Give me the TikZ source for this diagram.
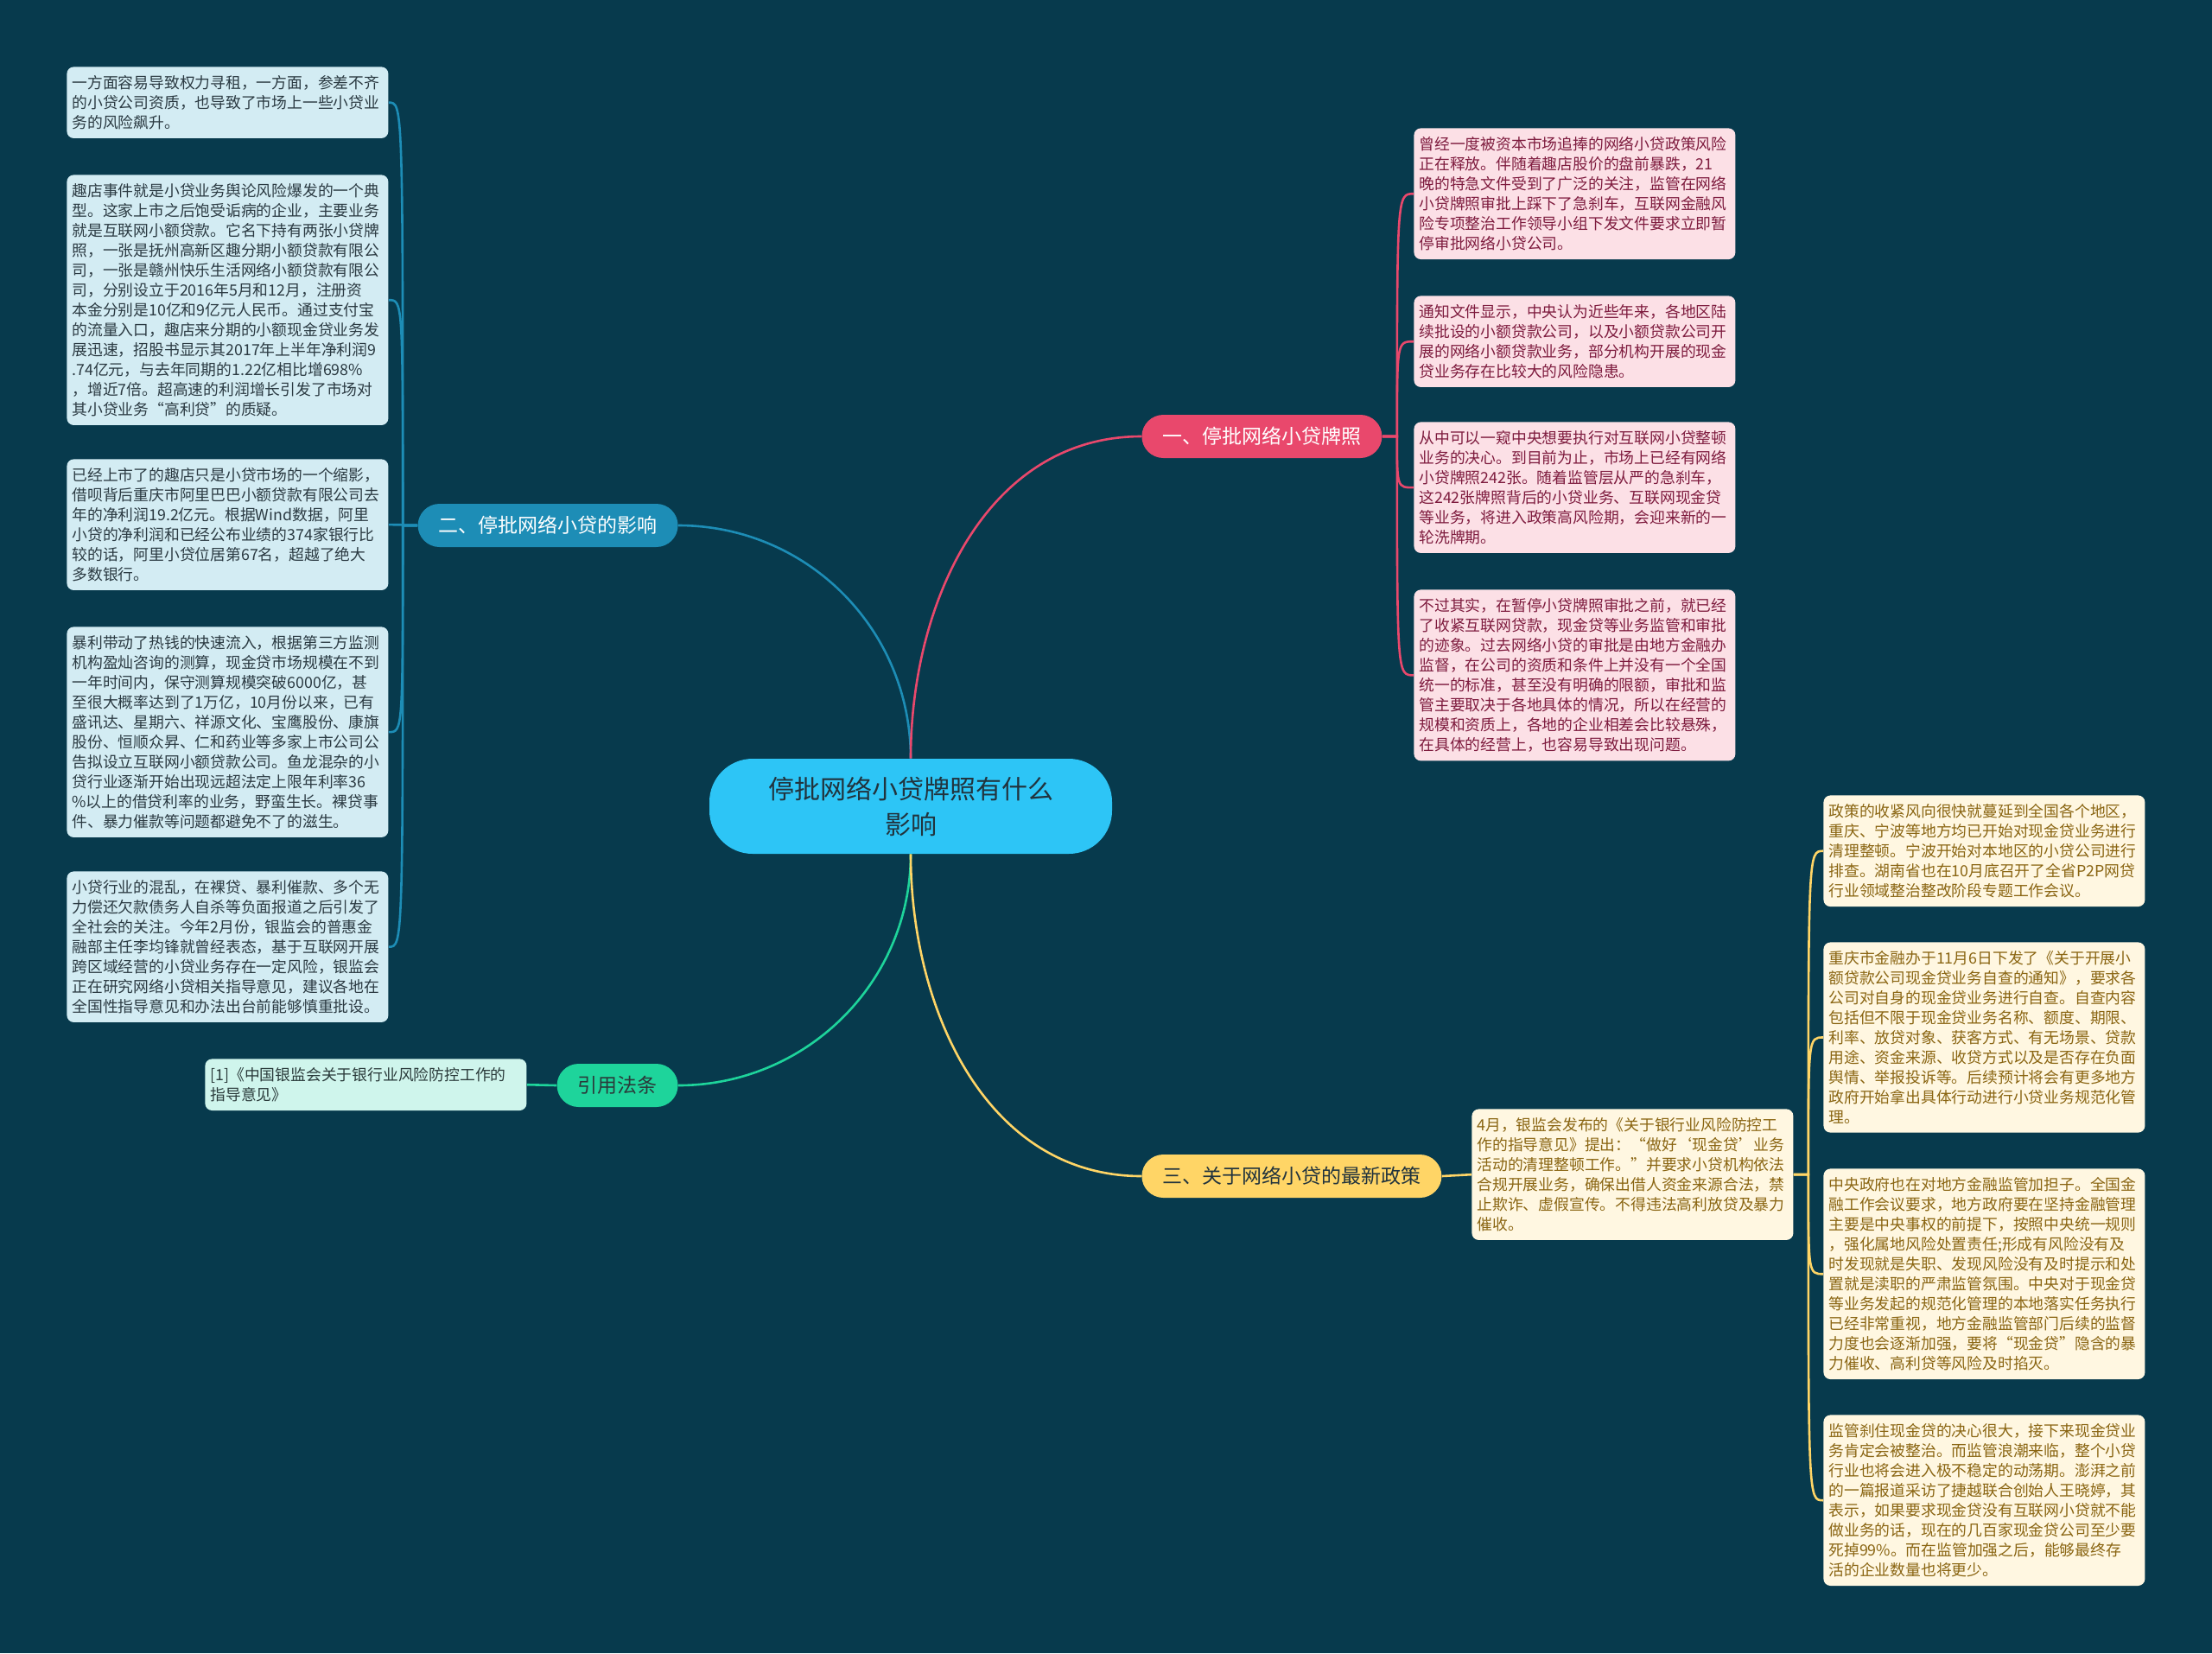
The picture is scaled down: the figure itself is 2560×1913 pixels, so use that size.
\documentclass[tikz,border=0pt]{standalone}
\usepackage{fontspec}
\newfontfamily\cjk{Noto Sans CJK SC}
\usetikzlibrary{positioning}

\definecolor{bgcol}{RGB}{7,58,77}
\definecolor{rootcol}{HTML}{2DC5F6}
\definecolor{roottext}{HTML}{21333D}
\definecolor{pinkcol}{HTML}{E9486C}
\definecolor{bluecol}{HTML}{1D8DB6}
\definecolor{greencol}{HTML}{1ED49B}
\definecolor{yellowcol}{HTML}{FFD566}
\definecolor{blueleaf}{HTML}{D3ECF3}
\definecolor{bluetext}{HTML}{2B3A42}
\definecolor{pinkleaf}{HTML}{FCE0E6}
\definecolor{pinktext}{HTML}{7E1B3E}
\definecolor{yellowleaf}{HTML}{FFF7E1}
\definecolor{yellowtext}{HTML}{8A6512}
\definecolor{greenleaf}{HTML}{CFF5EC}
\definecolor{greentext}{HTML}{2A3A3A}

\begin{document}
\begin{tikzpicture}[
    x=0.5pt, y=-0.5pt,
    root/.style={rectangle, fill=rootcol, text=roottext, rounded corners=25pt, minimum width=233pt, minimum height=55pt, align=center, font=\cjk\fontsize{15pt}{20.5pt}\selectfont},
    branch/.style={rectangle, rounded corners=12.5pt, minimum height=25pt, inner xsep=12pt, font=\cjk\fontsize{11.5pt}{14pt}\selectfont},
    leaf/.style={rectangle, rounded corners=4pt, anchor=north west, text width=180pt, inner xsep=3pt, inner ysep=5pt, align=left, font=\cjk\fontsize{8.9pt}{11.5pt}\selectfont},
    link/.style={line width=1.3pt}
]

% Background
\fill[bgcol] (0,0) rectangle (2560,1913);

% Central topic
\node[root] at (1054,933) (root) {停批网络小贷牌照有什么\\影响};

% Main branches
\node[branch, fill=pinkcol, text=white, anchor=west] at (1321,505) (b1) {一、停批网络小贷牌照};
\node[branch, fill=bluecol, text=white, anchor=east] at (785,608) (b2) {二、停批网络小贷的影响};
\node[branch, fill=yellowcol, text=roottext, anchor=west] at (1321,1361) (b3) {三、关于网络小贷的最新政策};
\node[branch, fill=greencol, text=greentext, anchor=east] at (785,1256) (b4) {引用法条};

% Branch links
\draw[link, bluecol] (root.north) to[out=90, in=0] (b2.east);
\draw[link, pinkcol] (root.north) to[out=90, in=180] (b1.west);
\draw[link, greencol] (root.south) to[out=-90, in=0] (b4.east);
\draw[link, yellowcol] (root.south) to[out=-90, in=180] (b3.west);

% Pink leaves
\node[leaf, fill=pinkleaf, text=pinktext] at (1636,148) (p1) {曾经一度被资本市场追捧的网络小贷政策风险\\正在释放。伴随着趣店股价的盘前暴跌，21\\晚的特急文件受到了广泛的关注，监管在网络\\小贷牌照审批上踩下了急刹车，互联网金融风\\险专项整治工作领导小组下发文件要求立即暂\\停审批网络小贷公司。};
\node[leaf, fill=pinkleaf, text=pinktext] at (1636,342) (p2) {通知文件显示，中央认为近些年来，各地区陆\\续批设的小额贷款公司，以及小额贷款公司开\\展的网络小额贷款业务，部分机构开展的现金\\贷业务存在比较大的风险隐患。};
\node[leaf, fill=pinkleaf, text=pinktext] at (1636,488) (p3) {从中可以一窥中央想要执行对互联网小贷整顿\\业务的决心。到目前为止，市场上已经有网络\\小贷牌照242张。随着监管层从严的急刹车，\\这242张牌照背后的小贷业务、互联网现金贷\\等业务，将进入政策高风险期，会迎来新的一\\轮洗牌期。};
\node[leaf, fill=pinkleaf, text=pinktext] at (1636,682) (p4) {不过其实，在暂停小贷牌照审批之前，就已经\\了收紧互联网贷款，现金贷等业务监管和审批\\的迹象。过去网络小贷的审批是由地方金融办\\监督，在公司的资质和条件上并没有一个全国\\统一的标准，甚至没有明确的限额，审批和监\\管主要取决于各地具体的情况，所以在经营的\\规模和资质上，各地的企业相差会比较悬殊，\\在具体的经营上，也容易导致出现问题。};

% Blue leaves
\node[leaf, fill=blueleaf, text=bluetext] at (77,77) (l1) {一方面容易导致权力寻租，一方面，参差不齐\\的小贷公司资质，也导致了市场上一些小贷业\\务的风险飙升。};
\node[leaf, fill=blueleaf, text=bluetext] at (77,202) (l2) {趣店事件就是小贷业务舆论风险爆发的一个典\\型。这家上市之后饱受诟病的企业，主要业务\\就是互联网小额贷款。它名下持有两张小贷牌\\照，一张是抚州高新区趣分期小额贷款有限公\\司，一张是赣州快乐生活网络小额贷款有限公\\司，分别设立于2016年5月和12月，注册资\\本金分别是10亿和9亿元人民币。通过支付宝\\的流量入口，趣店来分期的小额现金贷业务发\\展迅速，招股书显示其2017年上半年净利润9\\.74亿元，与去年同期的1.22亿相比增698\%\\，增近7倍。超高速的利润增长引发了市场对\\其小贷业务“高利贷”的质疑。};
\node[leaf, fill=blueleaf, text=bluetext] at (77,531) (l3) {已经上市了的趣店只是小贷市场的一个缩影，\\借呗背后重庆市阿里巴巴小额贷款有限公司去\\年的净利润19.2亿元。根据Wind数据，阿里\\小贷的净利润和已经公布业绩的374家银行比\\较的话，阿里小贷位居第67名，超越了绝大\\多数银行。};
\node[leaf, fill=blueleaf, text=bluetext] at (77,725) (l4) {暴利带动了热钱的快速流入，根据第三方监测\\机构盈灿咨询的测算，现金贷市场规模在不到\\一年时间内，保守测算规模突破6000亿，甚\\至很大概率达到了1万亿，10月份以来，已有\\盛讯达、星期六、祥源文化、宝鹰股份、康旗\\股份、恒顺众昇、仁和药业等多家上市公司公\\告拟设立互联网小额贷款公司。鱼龙混杂的小\\贷行业逐渐开始出现远超法定上限年利率36\\\%以上的借贷利率的业务，野蛮生长。裸贷事\\件、暴力催款等问题都避免不了的滋生。};
\node[leaf, fill=blueleaf, text=bluetext] at (77,1008) (l5) {小贷行业的混乱，在裸贷、暴利催款、多个无\\力偿还欠款债务人自杀等负面报道之后引发了\\全社会的关注。今年2月份，银监会的普惠金\\融部主任李均锋就曾经表态，基于互联网开展\\跨区域经营的小贷业务存在一定风险，银监会\\正在研究网络小贷相关指导意见，建议各地在\\全国性指导意见和办法出台前能够慎重批设。};

% Citation leaf
\node[leaf, fill=greenleaf, text=greentext] at (237,1225) (c1) {[1]《中国银监会关于银行业风险防控工作的\\指导意见》};

% Yellow leaves
\node[leaf, fill=yellowleaf, text=yellowtext] at (1703,1283) (m1) {4月，银监会发布的《关于银行业风险防控工\\作的指导意见》提出：“做好‘现金贷’业务\\活动的清理整顿工作。”并要求小贷机构依法\\合规开展业务，确保出借人资金来源合法，禁\\止欺诈、虚假宣传。不得违法高利放贷及暴力\\催收。};
\node[leaf, fill=yellowleaf, text=yellowtext] at (2110,920) (y1) {政策的收紧风向很快就蔓延到全国各个地区，\\重庆、宁波等地方均已开始对现金贷业务进行\\清理整顿。宁波开始对本地区的小贷公司进行\\排查。湖南省也在10月底召开了全省P2P网贷\\行业领域整治整改阶段专题工作会议。};
\node[leaf, fill=yellowleaf, text=yellowtext] at (2110,1090) (y2) {重庆市金融办于11月6日下发了《关于开展小\\额贷款公司现金贷业务自查的通知》，要求各\\公司对自身的现金贷业务进行自查。自查内容\\包括但不限于现金贷业务名称、额度、期限、\\利率、放贷对象、获客方式、有无场景、贷款\\用途、资金来源、收贷方式以及是否存在负面\\舆情、举报投诉等。后续预计将会有更多地方\\政府开始拿出具体行动进行小贷业务规范化管\\理。};
\node[leaf, fill=yellowleaf, text=yellowtext] at (2110,1352) (y3) {中央政府也在对地方金融监管加担子。全国金\\融工作会议要求，地方政府要在坚持金融管理\\主要是中央事权的前提下，按照中央统一规则\\，强化属地风险处置责任;形成有风险没有及\\时发现就是失职、发现风险没有及时提示和处\\置就是渎职的严肃监管氛围。中央对于现金贷\\等业务发起的规范化管理的本地落实任务执行\\已经非常重视，地方金融监管部门后续的监督\\力度也会逐渐加强，要将“现金贷”隐含的暴\\力催收、高利贷等风险及时掐灭。};
\node[leaf, fill=yellowleaf, text=yellowtext] at (2110,1637) (y4) {监管刹住现金贷的决心很大，接下来现金贷业\\务肯定会被整治。而监管浪潮来临，整个小贷\\行业也将会进入极不稳定的动荡期。澎湃之前\\的一篇报道采访了捷越联合创始人王晓婷，其\\表示，如果要求现金贷没有互联网小贷就不能\\做业务的话，现在的几百家现金贷公司至少要\\死掉99\%。而在监管加强之后，能够最终存\\活的企业数量也将更少。};

% Junctions
\coordinate (j1) at ([xshift=8.5pt]b1.east);
\coordinate (j2) at ([xshift=-8.5pt]b2.west);
\coordinate (j3) at ([xshift=8.5pt]m1.east);

% Leaf links
\foreach \p in {p1,p2,p3,p4}
    \draw[link, pinkcol] (b1.east) -- (j1) .. controls (j1 |- \p.west) .. (\p.west);
\foreach \l in {l1,l2,l3,l4,l5}
    \draw[link, bluecol] (b2.west) -- (j2) .. controls (j2 |- \l.east) .. (\l.east);
\foreach \y in {y1,y2,y3,y4}
    \draw[link, yellowcol] (m1.east) -- (j3) .. controls (j3 |- \y.west) .. (\y.west);
\draw[link, yellowcol] (b3.east) -- (m1.west);
\draw[link, greencol] (c1.east) -- (b4.west);

\end{tikzpicture}
\end{document}
